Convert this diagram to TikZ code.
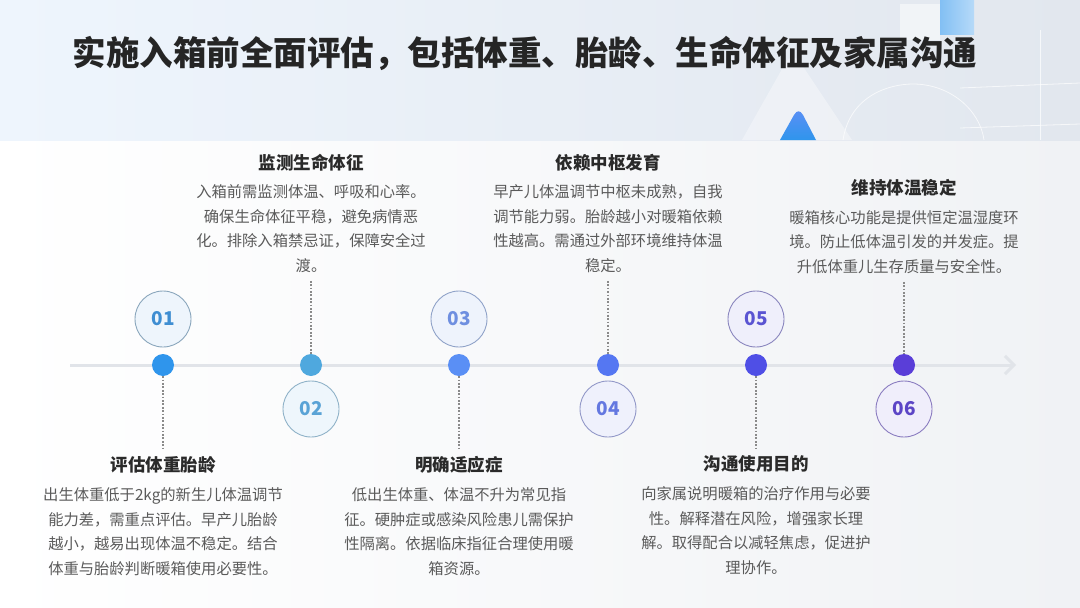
\documentclass[tikz,border=0pt]{standalone}
\usepackage{fontspec}
\setmainfont{Noto Sans CJK SC}
\usetikzlibrary{arrows.meta}
\definecolor{hdL}{HTML}{EEF5FD}
\definecolor{hdR}{HTML}{E2E7EE}
\definecolor{bgR}{HTML}{F0F2F5}
\definecolor{lineGray}{HTML}{E1E4E9}
\definecolor{dotGray}{HTML}{8A8A8A}
\definecolor{titleC}{HTML}{252525}
\definecolor{headC}{HTML}{2A2A2A}
\definecolor{bodyC}{HTML}{5A5A5A}
\definecolor{dA}{HTML}{2F95EC}
\definecolor{dB}{HTML}{4FA8DE}
\definecolor{dC}{HTML}{5A8FF5}
\definecolor{dD}{HTML}{5577F2}
\definecolor{dE}{HTML}{4F4FE6}
\definecolor{dF}{HTML}{5A3ED8}
\definecolor{nA}{HTML}{3F8ED2}
\definecolor{nB}{HTML}{5AA3D6}
\definecolor{nC}{HTML}{6F8FE0}
\definecolor{nD}{HTML}{6478E0}
\definecolor{nE}{HTML}{5A54D2}
\definecolor{nF}{HTML}{5C45C6}
\definecolor{fA}{HTML}{EEF5FC}
\definecolor{fB}{HTML}{EEF6FC}
\definecolor{fC}{HTML}{EEF3FC}
\definecolor{fD}{HTML}{EFF1FC}
\definecolor{fE}{HTML}{EFEFFB}
\definecolor{fF}{HTML}{F0EEFB}
\definecolor{bA}{HTML}{8AA6BC}
\definecolor{bB}{HTML}{8FB2C8}
\definecolor{bC}{HTML}{8FA2C8}
\definecolor{bD}{HTML}{9298C8}
\definecolor{bE}{HTML}{8A86BE}
\definecolor{bF}{HTML}{8A7CC0}
\begin{document}
\begin{tikzpicture}[x=1pt,y=-1pt,
  dotnode/.style={circle,minimum size=22pt,inner sep=0pt,fill=#1},
  numcirc/.style={circle,minimum size=56pt,inner sep=0pt,line width=0.9pt,
    font=\fontsize{19}{19}\selectfont\bfseries},
  headtext/.style={font=\fontsize{17.5}{20}\selectfont\bfseries,text=headC,inner sep=2pt},
  bodytext/.style={font=\fontsize{15.3}{24.6}\selectfont,text=bodyC,align=center,inner sep=0pt,anchor=north},
  dotline/.style={draw=dotGray,line width=1.7pt,dash pattern=on 1.7pt off 1.7pt},
  axis/.style={draw=lineGray,line width=3pt,-{Straight Barb[length=9pt,width=18pt,line width=3pt]}}
]
\useasboundingbox (0,0) rectangle (1080,608);
% backgrounds
\shade[left color=white,right color=bgR] (0,140) rectangle (1080,608);
\shade[left color=hdL,right color=hdR] (0,0) rectangle (1080,140);
% header decorations
\fill[white,opacity=0.35] (742,140) -- (786,62) .. controls (790,56) and (796,56) .. (800,62) -- (852,140) -- cycle;
\shade[top color=dC,bottom color=dA] (780,140) -- (794,115) .. controls (797,110) and (800,110) .. (803,115) -- (816,140) -- cycle;
\fill[white,opacity=0.5] (900,4) rectangle (940,40);
\shade[left color=dA!60,right color=dA!35] (940,0) rectangle (974,34);
\draw[white,line width=0.8pt,opacity=0.7] (843,140) .. controls (850,95) and (890,84) .. (913,84) .. controls (950,84) and (980,110) .. (984,140);
\draw[white,line width=0.8pt,opacity=0.7] (1040,30) -- (1040,140);
\draw[white,line width=0.8pt,opacity=0.7] (960,88) -- (1080,83);
\draw[white,line width=0.8pt,opacity=0.7] (960,128) -- (1080,124);
% title
\node[font=\fontsize{33.5}{36}\selectfont\bfseries,text=titleC] (title) at (525,53) {实施入箱前全面评估，包括体重、胎龄、生命体征及家属沟通};
% axis
\coordinate (ts) at (70,365);
\coordinate (te) at (1016,365);
\draw[axis] (ts) -- (te);
% dots
\node[dotnode=dA] (d1) at (163,365) {};
\node[dotnode=dB] (d2) at (311,365) {};
\node[dotnode=dC] (d3) at (459,365) {};
\node[dotnode=dD] (d4) at (608,365) {};
\node[dotnode=dE] (d5) at (756,365) {};
\node[dotnode=dF] (d6) at (904,365) {};
% number circles
\node[numcirc,draw=bA,fill=fA,text=nA] (n1) at (163,319) {01};
\node[numcirc,draw=bB,fill=fB,text=nB] (n2) at (311,409) {02};
\node[numcirc,draw=bC,fill=fC,text=nC] (n3) at (459,319) {03};
\node[numcirc,draw=bD,fill=fD,text=nD] (n4) at (608,409) {04};
\node[numcirc,draw=bE,fill=fE,text=nE] (n5) at (756,319) {05};
\node[numcirc,draw=bF,fill=fF,text=nF] (n6) at (904,409) {06};
% top texts
\node[headtext] (h2) at (311,163) {监测生命体征};
\node[bodytext] (b2) at (311,184.5) {入箱前需监测体温、呼吸和心率。\\确保生命体征平稳，避免病情恶\\化。排除入箱禁忌证，保障安全过\\渡。};
\node[headtext] (h4) at (608,163) {依赖中枢发育};
\node[bodytext] (b4) at (608,184.5) {早产儿体温调节中枢未成熟，自我\\调节能力弱。胎龄越小对暖箱依赖\\性越高。需通过外部环境维持体温\\稳定。};
\node[headtext] (h6) at (904,188) {维持体温稳定};
\node[bodytext] (b6) at (904,210) {暖箱核心功能是提供恒定温湿度环\\境。防止低体温引发的并发症。提\\升低体重儿生存质量与安全性。};
% bottom texts
\node[headtext] (h1) at (163,465) {评估体重胎龄};
\node[bodytext] (b1) at (163,487.5) {出生体重低于2kg的新生儿体温调节\\能力差，需重点评估。早产儿胎龄\\越小，越易出现体温不稳定。结合\\体重与胎龄判断暖箱使用必要性。};
\node[headtext] (h3) at (459,465) {明确适应症};
\node[bodytext] (b3) at (459,487.5) {低出生体重、体温不升为常见指\\征。硬肿症或感染风险患儿需保护\\性隔离。依据临床指征合理使用暖\\箱资源。};
\node[headtext] (h5) at (756,464) {沟通使用目的};
\node[bodytext] (b5) at (756,486.5) {向家属说明暖箱的治疗作用与必要\\性。解释潜在风险，增强家长理\\解。取得配合以减轻焦虑，促进护\\理协作。};
% dotted connectors
\draw[dotline,shorten >=5pt] (d1) -- (h1.north);
\draw[dotline,shorten >=5pt] (d3) -- (h3.north);
\draw[dotline,shorten >=5pt] (d5) -- (h5.north);
\draw[dotline,shorten <=8pt] (b2.south) -- (d2);
\draw[dotline,shorten <=8pt] (b4.south) -- (d4);
\draw[dotline,shorten <=8pt] (b6.south) -- (d6);
\end{tikzpicture}
\end{document}
